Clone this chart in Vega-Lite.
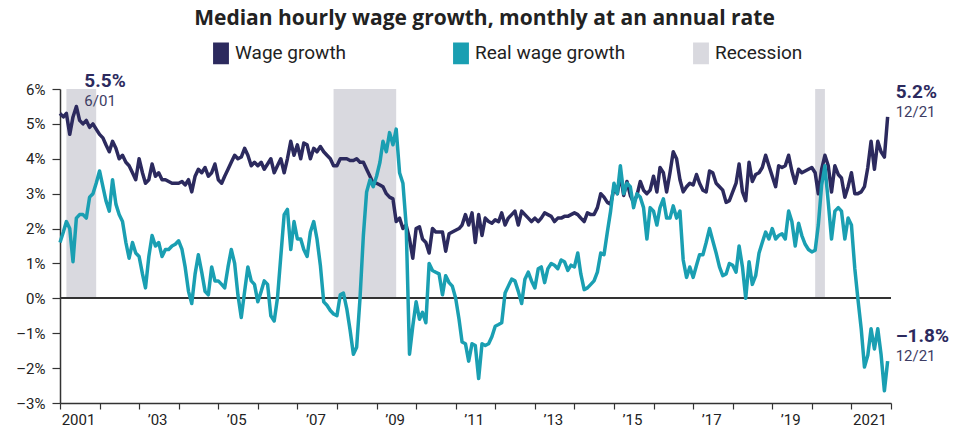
{
"$schema": "https://vega.github.io/schema/vega-lite/v6.json",
"width": 831, "height": 314,
"autosize": {"type": "none"},
"padding": {"left": 60, "top": 89, "right": 78, "bottom": 30},
"background": "white",
"config": {"font": "Roboto", "view": {"stroke": null}, "axisY": {"labelOverlap": false}},
"title": {"text": "Median hourly wage growth, monthly at an annual rate", "font": "Open Sans", "fontSize": 21, "fontWeight": "bold", "color": "#222222", "anchor": "middle", "frame": "group", "offset": 13, "dx": 9},
"datasets": {
"m": [
{"d":"2001-01","w":5.3,"r":1.6},{"d":"2001-02","w":5.2,"r":1.9},{"d":"2001-03","w":5.3,"r":2.2},{"d":"2001-04","w":4.7,"r":2.0},{"d":"2001-05","w":5.2,"r":1.05},{"d":"2001-06","w":5.5,"r":2.3},{"d":"2001-07","w":5.1,"r":2.4},{"d":"2001-08","w":5.0,"r":2.4},{"d":"2001-09","w":5.1,"r":2.3},{"d":"2001-10","w":4.9,"r":2.9},{"d":"2001-11","w":5.0,"r":3.0},{"d":"2001-12","w":4.85,"r":3.3},
{"d":"2002-01","w":4.7,"r":3.65},{"d":"2002-02","w":4.6,"r":3.2},{"d":"2002-03","w":4.4,"r":2.8},{"d":"2002-04","w":4.2,"r":2.5},{"d":"2002-05","w":4.5,"r":3.4},{"d":"2002-06","w":4.3,"r":2.7},{"d":"2002-07","w":4.0,"r":2.4},{"d":"2002-08","w":4.1,"r":2.2},{"d":"2002-09","w":3.9,"r":1.6},{"d":"2002-10","w":3.8,"r":1.15},{"d":"2002-11","w":3.6,"r":1.6},{"d":"2002-12","w":3.4,"r":1.3},
{"d":"2003-01","w":4.0,"r":1.2},{"d":"2003-02","w":3.6,"r":0.7},{"d":"2003-03","w":3.3,"r":0.3},{"d":"2003-04","w":3.4,"r":1.2},{"d":"2003-05","w":3.85,"r":1.8},{"d":"2003-06","w":3.5,"r":1.5},{"d":"2003-07","w":3.6,"r":1.6},{"d":"2003-08","w":3.4,"r":1.2},{"d":"2003-09","w":3.4,"r":1.4},{"d":"2003-10","w":3.35,"r":1.4},{"d":"2003-11","w":3.3,"r":1.5},{"d":"2003-12","w":3.3,"r":1.55},
{"d":"2004-01","w":3.3,"r":1.65},{"d":"2004-02","w":3.35,"r":1.4},{"d":"2004-03","w":3.25,"r":0.9},{"d":"2004-04","w":3.4,"r":0.2},{"d":"2004-05","w":3.05,"r":-0.15},{"d":"2004-06","w":3.5,"r":0.7},{"d":"2004-07","w":3.7,"r":1.25},{"d":"2004-08","w":3.6,"r":0.75},{"d":"2004-09","w":3.75,"r":0.2},{"d":"2004-10","w":3.5,"r":0.1},{"d":"2004-11","w":3.6,"r":0.9},{"d":"2004-12","w":3.85,"r":0.5},
{"d":"2005-01","w":3.4,"r":0.5},{"d":"2005-02","w":3.3,"r":0.4},{"d":"2005-03","w":3.5,"r":0.3},{"d":"2005-04","w":3.7,"r":0.9},{"d":"2005-05","w":3.9,"r":1.4},{"d":"2005-06","w":4.1,"r":1.0},{"d":"2005-07","w":4.0,"r":0.1},{"d":"2005-08","w":4.05,"r":-0.55},{"d":"2005-09","w":4.3,"r":0.2},{"d":"2005-10","w":4.1,"r":0.9},{"d":"2005-11","w":3.8,"r":0.5},{"d":"2005-12","w":3.9,"r":0.4},
{"d":"2006-01","w":3.8,"r":-0.1},{"d":"2006-02","w":3.9,"r":0.2},{"d":"2006-03","w":3.7,"r":0.5},{"d":"2006-04","w":3.85,"r":0.4},{"d":"2006-05","w":4.0,"r":-0.5},{"d":"2006-06","w":3.6,"r":-0.65},{"d":"2006-07","w":3.8,"r":0.0},{"d":"2006-08","w":4.0,"r":1.2},{"d":"2006-09","w":3.6,"r":2.4},{"d":"2006-10","w":4.0,"r":2.55},{"d":"2006-11","w":4.5,"r":1.4},{"d":"2006-12","w":4.1,"r":2.2},
{"d":"2007-01","w":4.4,"r":1.7},{"d":"2007-02","w":4.0,"r":1.7},{"d":"2007-03","w":4.45,"r":1.4},{"d":"2007-04","w":4.4,"r":1.2},{"d":"2007-05","w":4.0,"r":1.9},{"d":"2007-06","w":4.3,"r":2.2},{"d":"2007-07","w":4.2,"r":1.7},{"d":"2007-08","w":4.35,"r":0.95},{"d":"2007-09","w":4.2,"r":-0.1},{"d":"2007-10","w":4.1,"r":-0.2},{"d":"2007-11","w":4.0,"r":-0.35},{"d":"2007-12","w":3.8,"r":-0.45},
{"d":"2008-01","w":3.8,"r":-0.5},{"d":"2008-02","w":4.0,"r":0.1},{"d":"2008-03","w":4.0,"r":0.15},{"d":"2008-04","w":4.0,"r":-0.3},{"d":"2008-05","w":3.95,"r":-0.9},{"d":"2008-06","w":3.95,"r":-1.6},{"d":"2008-07","w":4.0,"r":-1.4},{"d":"2008-08","w":3.9,"r":0.0},{"d":"2008-09","w":3.9,"r":1.8},{"d":"2008-10","w":3.7,"r":3.05},{"d":"2008-11","w":3.5,"r":3.4},{"d":"2008-12","w":3.3,"r":3.2},
{"d":"2009-01","w":3.3,"r":3.5},{"d":"2009-02","w":3.25,"r":3.9},{"d":"2009-03","w":3.2,"r":4.5},{"d":"2009-04","w":3.0,"r":4.2},{"d":"2009-05","w":2.9,"r":4.75},{"d":"2009-06","w":2.85,"r":4.4},{"d":"2009-07","w":2.2,"r":4.85},{"d":"2009-08","w":2.3,"r":3.6},{"d":"2009-09","w":2.0,"r":3.3},{"d":"2009-10","w":2.1,"r":2.1},{"d":"2009-11","w":1.7,"r":-1.6},{"d":"2009-12","w":1.15,"r":-0.8},
{"d":"2010-01","w":2.0,"r":-0.1},{"d":"2010-02","w":2.05,"r":-0.6},{"d":"2010-03","w":1.7,"r":-0.4},{"d":"2010-04","w":1.6,"r":-0.7},{"d":"2010-05","w":1.3,"r":1.0},{"d":"2010-06","w":2.0,"r":0.8},{"d":"2010-07","w":1.9,"r":0.75},{"d":"2010-08","w":1.9,"r":0.7},{"d":"2010-09","w":1.9,"r":0.1},{"d":"2010-10","w":1.35,"r":0.65},{"d":"2010-11","w":1.85,"r":0.45},{"d":"2010-12","w":1.9,"r":0.35},
{"d":"2011-01","w":1.95,"r":0.0},{"d":"2011-02","w":2.0,"r":-0.6},{"d":"2011-03","w":2.1,"r":-1.25},{"d":"2011-04","w":2.4,"r":-1.3},{"d":"2011-05","w":2.1,"r":-1.8},{"d":"2011-06","w":2.45,"r":-1.3},{"d":"2011-07","w":1.6,"r":-1.35},{"d":"2011-08","w":2.4,"r":-2.3},{"d":"2011-09","w":1.8,"r":-1.3},{"d":"2011-10","w":2.3,"r":-1.35},{"d":"2011-11","w":2.2,"r":-1.3},{"d":"2011-12","w":2.15,"r":-1.1},
{"d":"2012-01","w":2.25,"r":-0.8},{"d":"2012-02","w":2.2,"r":-0.75},{"d":"2012-03","w":2.45,"r":-0.7},{"d":"2012-04","w":2.1,"r":0.15},{"d":"2012-05","w":2.3,"r":0.35},{"d":"2012-06","w":2.4,"r":0.55},{"d":"2012-07","w":2.5,"r":0.5},{"d":"2012-08","w":2.1,"r":0.2},{"d":"2012-09","w":2.5,"r":-0.15},{"d":"2012-10","w":2.4,"r":0.55},{"d":"2012-11","w":2.3,"r":0.75},{"d":"2012-12","w":2.2,"r":0.5},
{"d":"2013-01","w":2.3,"r":0.3},{"d":"2013-02","w":2.2,"r":0.85},{"d":"2013-03","w":2.3,"r":0.9},{"d":"2013-04","w":2.45,"r":0.45},{"d":"2013-05","w":2.4,"r":0.85},{"d":"2013-06","w":2.35,"r":1.0},{"d":"2013-07","w":2.2,"r":0.95},{"d":"2013-08","w":2.3,"r":0.85},{"d":"2013-09","w":2.3,"r":1.1},{"d":"2013-10","w":2.35,"r":1.05},{"d":"2013-11","w":2.35,"r":0.8},{"d":"2013-12","w":2.4,"r":0.95},
{"d":"2014-01","w":2.45,"r":0.9},{"d":"2014-02","w":2.4,"r":1.3},{"d":"2014-03","w":2.3,"r":0.7},{"d":"2014-04","w":2.2,"r":0.25},{"d":"2014-05","w":2.45,"r":0.3},{"d":"2014-06","w":2.4,"r":0.4},{"d":"2014-07","w":2.4,"r":0.5},{"d":"2014-08","w":2.6,"r":0.75},{"d":"2014-09","w":3.0,"r":1.3},{"d":"2014-10","w":2.9,"r":1.25},{"d":"2014-11","w":2.75,"r":1.9},{"d":"2014-12","w":2.7,"r":2.5},
{"d":"2015-01","w":3.15,"r":3.3},{"d":"2015-02","w":3.0,"r":3.0},{"d":"2015-03","w":3.55,"r":3.8},{"d":"2015-04","w":2.95,"r":3.0},{"d":"2015-05","w":3.35,"r":3.3},{"d":"2015-06","w":2.95,"r":3.2},{"d":"2015-07","w":2.75,"r":2.6},{"d":"2015-08","w":2.95,"r":3.0},{"d":"2015-09","w":3.35,"r":2.9},{"d":"2015-10","w":3.1,"r":2.6},{"d":"2015-11","w":3.0,"r":1.7},{"d":"2015-12","w":3.1,"r":2.6},
{"d":"2016-01","w":3.5,"r":2.5},{"d":"2016-02","w":3.05,"r":2.1},{"d":"2016-03","w":3.75,"r":2.6},{"d":"2016-04","w":3.6,"r":2.85},{"d":"2016-05","w":3.05,"r":2.3},{"d":"2016-06","w":3.6,"r":2.3},{"d":"2016-07","w":4.2,"r":2.65},{"d":"2016-08","w":4.0,"r":2.3},{"d":"2016-09","w":3.4,"r":2.5},{"d":"2016-10","w":3.05,"r":1.1},{"d":"2016-11","w":3.2,"r":0.6},{"d":"2016-12","w":3.3,"r":0.9},
{"d":"2017-01","w":3.25,"r":0.6},{"d":"2017-02","w":3.55,"r":0.95},{"d":"2017-03","w":3.3,"r":1.25},{"d":"2017-04","w":3.1,"r":1.25},{"d":"2017-05","w":3.05,"r":1.6},{"d":"2017-06","w":3.65,"r":2.0},{"d":"2017-07","w":3.6,"r":1.65},{"d":"2017-08","w":3.3,"r":1.3},{"d":"2017-09","w":3.2,"r":0.9},{"d":"2017-10","w":3.1,"r":0.65},{"d":"2017-11","w":2.75,"r":0.7},{"d":"2017-12","w":2.8,"r":1.0},
{"d":"2018-01","w":3.05,"r":0.95},{"d":"2018-02","w":3.3,"r":0.75},{"d":"2018-03","w":3.85,"r":1.5},{"d":"2018-04","w":3.05,"r":0.9},{"d":"2018-05","w":2.8,"r":0.0},{"d":"2018-06","w":3.9,"r":1.05},{"d":"2018-07","w":3.35,"r":0.4},{"d":"2018-08","w":3.55,"r":0.65},{"d":"2018-09","w":3.6,"r":1.3},{"d":"2018-10","w":3.75,"r":1.6},{"d":"2018-11","w":4.1,"r":1.9},{"d":"2018-12","w":3.8,"r":1.7},
{"d":"2019-01","w":3.5,"r":2.0},{"d":"2019-02","w":3.2,"r":1.7},{"d":"2019-03","w":3.8,"r":1.8},{"d":"2019-04","w":3.75,"r":1.85},{"d":"2019-05","w":3.8,"r":1.7},{"d":"2019-06","w":4.1,"r":2.5},{"d":"2019-07","w":3.65,"r":2.2},{"d":"2019-08","w":3.3,"r":1.5},{"d":"2019-09","w":3.7,"r":2.15},{"d":"2019-10","w":3.6,"r":1.8},{"d":"2019-11","w":3.65,"r":1.55},{"d":"2019-12","w":3.7,"r":1.4},
{"d":"2020-01","w":3.75,"r":1.33},{"d":"2020-02","w":3.6,"r":1.38},{"d":"2020-03","w":3.0,"r":2.1},{"d":"2020-04","w":3.7,"r":3.25},{"d":"2020-05","w":4.1,"r":3.8},{"d":"2020-06","w":3.8,"r":2.75},{"d":"2020-07","w":3.05,"r":1.7},{"d":"2020-08","w":3.8,"r":2.5},{"d":"2020-09","w":3.55,"r":2.6},{"d":"2020-10","w":3.45,"r":2.5},{"d":"2020-11","w":2.9,"r":1.7},{"d":"2020-12","w":3.2,"r":2.3},
{"d":"2021-01","w":3.6,"r":2.1},{"d":"2021-02","w":3.0,"r":0.85},{"d":"2021-03","w":3.0,"r":0.0},{"d":"2021-04","w":3.05,"r":-0.87},{"d":"2021-05","w":3.2,"r":-1.97},{"d":"2021-06","w":3.75,"r":-1.63},{"d":"2021-07","w":4.5,"r":-0.87},{"d":"2021-08","w":3.7,"r":-1.45},{"d":"2021-09","w":4.5,"r":-0.87},{"d":"2021-10","w":4.2,"r":-1.6},{"d":"2021-11","w":4.05,"r":-2.65},{"d":"2021-12","w":5.2,"r":-1.8}
],
"rec": [
{"s":"2001-03","e":"2001-12"},{"s":"2007-12","e":"2009-07"},{"s":"2020-02","e":"2020-05"}
],
"ann": [
{"d":"2001-06","v":5.5,"big":"5.5%","small":"6/01"},
{"d":"2021-12","v":5.2,"big":"5.2%","small":"12/21"},
{"d":"2021-12","v":-1.8,"big":"–1.8%","small":"12/21"}
]
},
"layer": [
{
"data": {"name": "rec"},
"mark": {"type": "rect", "opacity": 1},
"encoding": {
"x": {"field": "s", "type": "temporal",
"scale": {"type": "utc", "domain": [{"year": 2001, "month": 1, "date": 1, "utc": true}, {"year": 2022, "month": 1, "date": 1, "utc": true}]},
"axis": {"title": null, "grid": false, "tickCount": {"interval": "year", "step": 1},
"labelExpr": "utcyear(datum.value) == 2001 || utcyear(datum.value) == 2021 ? '' + utcyear(datum.value) : (utcyear(datum.value) % 2 == 1 ? '’' + slice('' + utcyear(datum.value), 2) : '')",
"labelOffset": 18, "labelFlush": false, "labelOverlap": false, "labelBound": false, "labelAlign": "center",
"labelFontSize": 15, "labelColor": "#222222", "labelPadding": 3,
"tickSize": 6, "tickColor": "#333333", "tickWidth": 1.2, "domainColor": "#333333", "domainWidth": 1.5}},
"x2": {"field": "e"},
"y": {"datum": 6, "type": "quantitative"},
"y2": {"datum": 0},
"color": {"datum": "Recession", "type": "nominal",
"scale": {"domain": ["Wage growth", "Real wage growth", "Recession"], "range": ["#2c2a5e", "#1a9fb2", "#d9d9df"]},
"legend": {"orient": "none", "legendX": 150, "legendY": -47, "direction": "horizontal", "columns": 3, "gridAlign": "all", "columnPadding": 64, "title": null,
"symbolType": "M-0.7,-1H0.7V1H-0.7Z", "symbolSize": 420, "labelFontSize": 19, "labelColor": "#222222", "padding": 0, "labelOffset": 3,
"encode": {"symbols": {"update": {"fill": {"scale": "color", "field": "value"}, "fillOpacity": {"value": 1}, "stroke": {"value": "transparent"}, "strokeWidth": {"value": 0}}}}}}
}
},
{
"data": {"name": "m"},
"mark": {"type": "rule", "color": "#333333", "strokeWidth": 1.5},
"encoding": {"y": {"datum": 0, "type": "quantitative"}}
},
{
"data": {"name": "m"},
"mark": {"type": "line", "strokeWidth": 3.5, "strokeJoin": "round"},
"encoding": {
"x": {"field": "d", "type": "temporal"},
"y": {"field": "w", "type": "quantitative",
"scale": {"domain": [-3, 6], "nice": false, "zero": false},
"axis": {"title": null, "grid": false, "values": [-3, -2, -1, 0, 1, 2, 3, 4, 5, 6], "tickCount": 10,
"labelExpr": "datum.value < 0 ? '–' + abs(datum.value) + '%' : datum.value + '%'",
"labelOverlap": false, "labelBound": false, "labelFlush": false,
"labelFontSize": 15, "labelColor": "#222222", "labelPadding": 7,
"tickSize": 8, "tickColor": "#333333", "tickWidth": 1.2, "domainColor": "#333333", "domainWidth": 1.5}},
"color": {"datum": "Wage growth", "type": "nominal"}
}
},
{
"data": {"name": "m"},
"mark": {"type": "line", "strokeWidth": 3.5, "strokeJoin": "round"},
"encoding": {
"x": {"field": "d", "type": "temporal"},
"y": {"field": "r", "type": "quantitative"},
"color": {"datum": "Real wage growth", "type": "nominal"}
}
},
{
"data": {"name": "ann"},
"mark": {"type": "text", "align": "left", "baseline": "middle", "dx": 8, "dy": -25, "fontSize": 19, "fontWeight": "bold", "color": "#2c2a5e"},
"encoding": {
"x": {"field": "d", "type": "temporal"},
"y": {"field": "v", "type": "quantitative"},
"text": {"field": "big"}
}
},
{
"data": {"name": "ann"},
"mark": {"type": "text", "align": "left", "baseline": "middle", "dx": 8, "dy": -5, "fontSize": 15, "color": "#3d3c63"},
"encoding": {
"x": {"field": "d", "type": "temporal"},
"y": {"field": "v", "type": "quantitative"},
"text": {"field": "small"}
}
}
]
}
